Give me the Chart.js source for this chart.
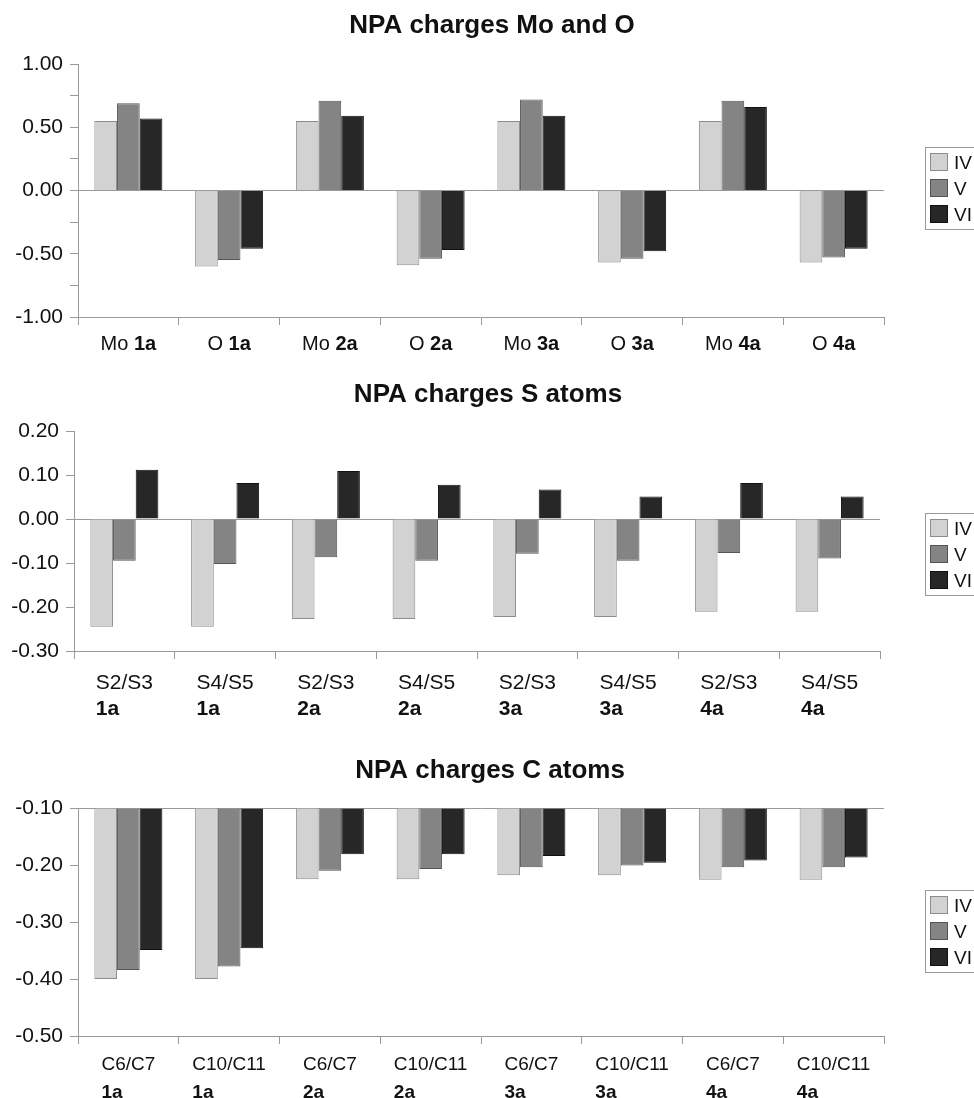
<!DOCTYPE html>
<html>
<head>
<meta charset="utf-8">
<script src="https://cdn.jsdelivr.net/npm/chart.js@4.4.0/dist/chart.umd.min.js"></script>
<style>
  body { margin: 0; background: #fff; }
  .wrap { position: relative; width: 974px; height: 1098px; overflow: hidden; background: #fff; }
  canvas { position: absolute; left: 0; }
</style>
</head>
<body>
<div class="wrap">
  <canvas id="chartMoO" width="974" height="365" style="top:0px"></canvas>
  <canvas id="chartS" width="974" height="365" style="top:365px"></canvas>
  <canvas id="chartC" width="974" height="368" style="top:730px"></canvas>
</div>
<script>
// series (oxidation states) and compounds
const seriesNames = ['IV', 'V', 'VI'];
const compounds = ['1a', '1a', '2a', '2a', '3a', '3a', '4a', '4a'];

// NPA charges Mo and O
const moOAtoms = ['Mo', 'O', 'Mo', 'O', 'Mo', 'O', 'Mo', 'O'];
const moOIV = [0.55, -0.60, 0.55, -0.59, 0.55, -0.57, 0.55, -0.57];
const moOV = [0.69, -0.55, 0.71, -0.54, 0.72, -0.54, 0.71, -0.53];
const moOVI = [0.57, -0.46, 0.59, -0.47, 0.59, -0.48, 0.66, -0.46];

// NPA charges S atoms
const sAtoms = ['S2/S3', 'S4/S5', 'S2/S3', 'S4/S5', 'S2/S3', 'S4/S5', 'S2/S3', 'S4/S5'];
const sIV = [-0.245, -0.245, -0.227, -0.227, -0.223, -0.223, -0.211, -0.211];
const sV = [-0.095, -0.102, -0.087, -0.095, -0.079, -0.095, -0.077, -0.090];
const sVI = [0.112, 0.082, 0.109, 0.078, 0.067, 0.051, 0.082, 0.051];

// NPA charges C atoms (bars hang from -0.10)
const cAtoms = ['C6/C7', 'C10/C11', 'C6/C7', 'C10/C11', 'C6/C7', 'C10/C11', 'C6/C7', 'C10/C11'];
const cIV = [-0.400, -0.400, -0.225, -0.225, -0.218, -0.218, -0.226, -0.226];
const cV = [-0.384, -0.378, -0.210, -0.207, -0.204, -0.201, -0.204, -0.204];
const cVI = [-0.349, -0.346, -0.181, -0.181, -0.184, -0.196, -0.192, -0.187];

const FONT = "'Liberation Sans', Arial, sans-serif";
const AXIS = '#9a9a9a';
const fills = ['#d2d2d2', '#848484', '#272727'];
const edges = ['#8c8c8c', '#555555', '#111111'];

// draws title, category labels (with bold compound part) and the boxed legend
const decorPlugin = {
  id: 'decor',
  afterDraw(chart, args, opts) {
    const ctx = chart.ctx;
    const xs = chart.scales.x;
    ctx.save();
    ctx.fillStyle = '#111';
    ctx.textBaseline = 'alphabetic';

    // title
    ctx.font = 'bold 26px ' + FONT;
    ctx.textAlign = 'center';
    ctx.fillText(opts.title, opts.titleX, opts.titleBaseline);

    // category labels
    ctx.textAlign = 'left';
    const normal = opts.catSize + 'px ' + FONT;
    const bold = 'bold ' + opts.catSize + 'px ' + FONT;
    opts.atoms.forEach((atom, i) => {
      const x = xs.getPixelForValue(i);
      const comp = compounds[i];
      if (opts.inline) {
        ctx.font = normal;
        const w1 = ctx.measureText(atom + ' ').width;
        ctx.font = bold;
        const w2 = ctx.measureText(comp).width;
        const left = x - (w1 + w2) / 2;
        ctx.font = normal;
        ctx.fillText(atom + ' ', left, opts.labelBaselines[0]);
        ctx.font = bold;
        ctx.fillText(comp, left + w1, opts.labelBaselines[0]);
      } else {
        ctx.font = normal;
        const w = ctx.measureText(atom).width;
        const left = x - w / 2;
        ctx.fillText(atom, left, opts.labelBaselines[0]);
        ctx.font = bold;
        ctx.fillText(comp, left, opts.labelBaselines[1]);
      }
    });

    // legend box
    const lt = opts.legendTop;
    ctx.strokeStyle = AXIS;
    ctx.lineWidth = 1;
    ctx.strokeRect(925.5, lt + 0.5, 70, 82);
    ctx.font = '19px ' + FONT;
    seriesNames.forEach((name, k) => {
      const y = lt + 6 + k * 26;
      ctx.fillStyle = fills[k];
      ctx.fillRect(930, y, 18, 18);
      ctx.strokeStyle = edges[k];
      ctx.strokeRect(930.5, y + 0.5, 17, 17);
      ctx.fillStyle = '#111';
      ctx.fillText(name, 954, y + 16);
    });
    ctx.restore();
  }
};

function makeChart(id, values, cfg) {
  const datasets = seriesNames.map((name, k) => ({
    label: name,
    data: values[k],
    backgroundColor: fills[k],
    borderColor: edges[k],
    borderWidth: 1,
    base: cfg.base,
    categoryPercentage: 0.675,
    barPercentage: 1.0
  }));
  return new Chart(document.getElementById(id), {
    type: 'bar',
    data: { labels: cfg.atoms.map((a, i) => a + ' ' + compounds[i]), datasets: datasets },
    options: {
      responsive: false,
      animation: false,
      layout: { padding: { top: cfg.plotTop, right: 974 - cfg.plotRight, left: 0, bottom: 0 } },
      plugins: {
        legend: { display: false },
        title: { display: false },
        tooltip: { enabled: false },
        decor: {
          title: cfg.title,
          titleX: cfg.titleX,
          titleBaseline: cfg.titleBaseline,
          atoms: cfg.atoms,
          inline: cfg.inline,
          catSize: cfg.catSize,
          labelBaselines: cfg.labelBaselines,
          legendTop: cfg.legendTop
        }
      },
      scales: {
        x: {
          afterFit: (scale) => { scale.height = cfg.canvasHeight - cfg.plotBottom; },
          grid: { offset: true, drawOnChartArea: false, drawTicks: true, tickLength: 8, tickColor: AXIS, color: AXIS },
          border: { display: true, color: AXIS },
          ticks: { display: false }
        },
        y: {
          min: cfg.min,
          max: cfg.max,
          afterFit: (scale) => { scale.width = cfg.plotLeft; },
          border: { display: true, color: AXIS },
          grid: {
            drawTicks: true,
            tickLength: 8,
            tickColor: AXIS,
            color: (c) => (c.tick && Math.abs(c.tick.value - cfg.base) < 1e-6 ? AXIS : 'rgba(0,0,0,0)')
          },
          ticks: {
            stepSize: cfg.step,
            padding: 7,
            color: '#111',
            font: { family: FONT, size: 21 },
            callback: (v) => {
              if (cfg.labelEvery && Math.abs(v / cfg.labelEvery - Math.round(v / cfg.labelEvery)) > 1e-6) return '';
              return (Math.abs(v) < 1e-9 ? 0 : v).toFixed(2);
            }
          }
        }
      }
    },
    plugins: [decorPlugin]
  });
}

makeChart('chartMoO', [moOIV, moOV, moOVI], {
  title: 'NPA charges Mo and O', titleX: 492, titleBaseline: 33,
  atoms: moOAtoms, inline: true, catSize: 20, labelBaselines: [350],
  legendTop: 147, canvasHeight: 365,
  plotTop: 64, plotBottom: 317, plotLeft: 78, plotRight: 884,
  min: -1, max: 1, step: 0.25, labelEvery: 0.5, base: 0
});

makeChart('chartS', [sIV, sV, sVI], {
  title: 'NPA charges S atoms', titleX: 488, titleBaseline: 37,
  atoms: sAtoms, inline: false, catSize: 21, labelBaselines: [324, 350],
  legendTop: 148, canvasHeight: 365,
  plotTop: 66, plotBottom: 286, plotLeft: 74, plotRight: 880,
  min: -0.3, max: 0.2, step: 0.1, labelEvery: 0, base: 0
});

makeChart('chartC', [cIV, cV, cVI], {
  title: 'NPA charges C atoms', titleX: 490, titleBaseline: 48,
  atoms: cAtoms, inline: false, catSize: 19, labelBaselines: [340, 368],
  legendTop: 160, canvasHeight: 368,
  plotTop: 78, plotBottom: 306, plotLeft: 78, plotRight: 884,
  min: -0.5, max: -0.1, step: 0.1, labelEvery: 0, base: -0.1
});
</script>
</body>
</html>
